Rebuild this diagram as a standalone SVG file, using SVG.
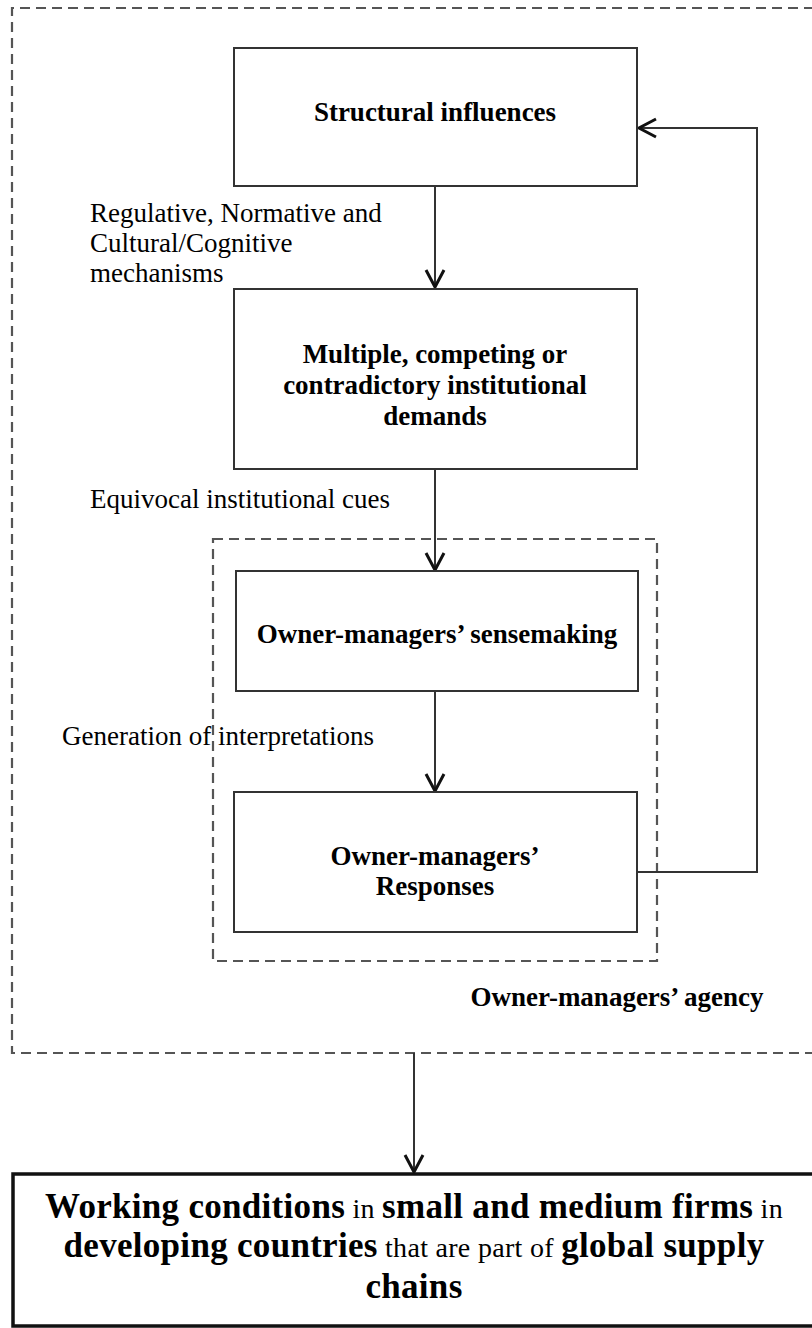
<svg xmlns="http://www.w3.org/2000/svg" width="812" height="1328" viewBox="0 0 812 1328">
  <style>
    .box { fill: #fff; stroke: #333; stroke-width: 2; }
    .dash { fill: none; stroke: #555; stroke-width: 2.2; stroke-dasharray: 10 6; }
    .wire { fill: none; stroke: #333; stroke-width: 2; }
    .lbl { font-family: "Liberation Serif", "Times New Roman", serif; font-size: 27px; fill: #000; }
    .ttl { font-family: "Liberation Serif", "Times New Roman", serif; font-size: 27px; font-weight: bold; fill: #000; text-anchor: middle; }
    .big { font-family: "Liberation Serif", "Times New Roman", serif; font-size: 35px; letter-spacing: 0.3px; fill: #000; text-anchor: middle; }
    .big .b { font-weight: bold; }
    .big .r { font-size: 28px; }
  </style>
  <defs>
    <marker id="chev" markerUnits="userSpaceOnUse" markerWidth="24" markerHeight="24" viewBox="-20 -12 24 24" refX="0" refY="0" orient="auto">
      <path d="M-17,-9 L0,0 L-17,9" fill="none" stroke="#111" stroke-width="3"/>
    </marker>
  </defs>

  <!-- outer boundary: structural context -->
  <g id="context">
    <path class="dash" d="M830,8 H12 V1053 H830"/>
  </g>

  <!-- inner boundary: owner-managers' agency -->
  <g id="agency">
    <rect class="dash" x="213" y="539" width="444" height="422"/>
    <text class="ttl" x="617" y="1006">Owner-managers’ agency</text>
  </g>

  <g id="connectors">
    <line class="wire" x1="435" y1="186" x2="435" y2="287" marker-end="url(#chev)"/>
    <line class="wire" x1="435" y1="469" x2="435" y2="570" marker-end="url(#chev)"/>
    <line class="wire" x1="435" y1="691" x2="435" y2="791" marker-end="url(#chev)"/>
    <polyline class="wire" points="637,872 757,872 757,128 639,128" marker-end="url(#chev)"/>
    <line class="wire" x1="414" y1="1053" x2="414" y2="1172" marker-end="url(#chev)"/>
    <text class="lbl" x="90" y="222">Regulative, Normative and</text>
    <text class="lbl" x="90" y="252">Cultural/Cognitive</text>
    <text class="lbl" x="90" y="282">mechanisms</text>
    <text class="lbl" x="90" y="508">Equivocal institutional cues</text>
    <text class="lbl" x="62" y="745">Generation of interpretations</text>
  </g>

  <g id="structural">
    <rect class="box" x="234" y="48" width="403" height="138"/>
    <text class="ttl" x="435" y="121">Structural influences</text>
  </g>

  <g id="demands">
    <rect class="box" x="234" y="289" width="403" height="180"/>
    <text class="ttl" x="435" y="363">Multiple, competing or</text>
    <text class="ttl" x="435" y="394">contradictory institutional</text>
    <text class="ttl" x="435" y="425">demands</text>
  </g>

  <g id="sensemaking">
    <rect class="box" x="236" y="571" width="402" height="120"/>
    <text class="ttl" x="437" y="643">Owner-managers’ sensemaking</text>
  </g>

  <g id="responses">
    <rect class="box" x="234" y="792" width="403" height="140"/>
    <text class="ttl" x="435" y="865">Owner-managers’</text>
    <text class="ttl" x="435" y="895">Responses</text>
  </g>

  <g id="outcome">
    <rect x="13" y="1174" width="830" height="152" fill="#fff" stroke="#111" stroke-width="3.5"/>
    <text class="big" x="414" y="1218"><tspan class="b">Working conditions</tspan><tspan class="r"> in </tspan><tspan class="b">small and medium firms</tspan><tspan class="r"> in</tspan></text>
    <text class="big" x="414" y="1257"><tspan class="b">developing countries</tspan><tspan class="r"> that are part of </tspan><tspan class="b">global supply</tspan></text>
    <text class="big" x="414" y="1298"><tspan class="b">chains</tspan></text>
  </g>
</svg>
